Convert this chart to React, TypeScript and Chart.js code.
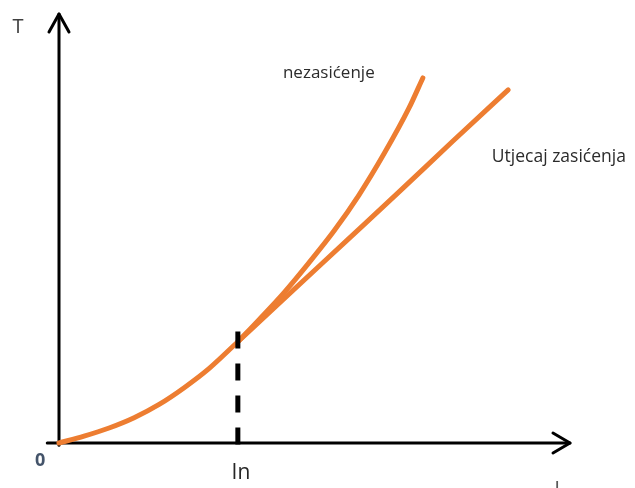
import React, { useEffect, useRef } from "react";
import { Chart, registerables } from "chart.js";

Chart.register(...registerables);

// Shared curve (0 .. In)
const baseX = [0, 0.49, 0.98, 1.47, 1.96, 2.45, 2.94, 3.5];
const baseY = [0, 0.16, 0.35, 0.59, 0.9, 1.29, 1.74, 2.36];
// Without saturation
const upperX = [3.5, 3.91, 4.4, 4.89, 5.38, 5.87, 6.36, 6.85, 7.12];
const upperY = [2.36, 2.87, 3.5, 4.2, 4.94, 5.78, 6.74, 7.81, 8.51];
// With saturation
const lowerX = [3.5, 4.31, 5.64, 6.67, 7.71, 8.79];
const lowerY = [2.36, 3.26, 4.73, 5.87, 7.04, 8.23];

const inValue = 3.5;
const axisLabels = ["T", "0", "In", "I"];
const curveLabels = ["nezasićenje", "Utjecaj zasićenja"];

const ORANGE = "#ED7D31";

const zip = (xs: number[], ys: number[]) => xs.map((x, i) => ({ x, y: ys[i] }));

const overlayPlugin = {
  id: "overlay",
  beforeDatasetsDraw(chart: any) {
    const { ctx, scales } = chart;
    const xs = scales.x;
    const ys = scales.y;
    const px = (v: number) => xs.getPixelForValue(v);
    const py = (v: number) => ys.getPixelForValue(v);
    ctx.save();
    ctx.strokeStyle = "#000";
    ctx.lineWidth = 3;
    ctx.lineCap = "round";
    ctx.lineJoin = "round";
    const x0 = px(0), y0 = py(0);
    const xEnd = px(10), yEnd = py(10);
    // x axis
    ctx.beginPath();
    ctx.moveTo(px(-0.23), y0);
    ctx.lineTo(xEnd, y0);
    ctx.stroke();
    ctx.beginPath();
    ctx.moveTo(xEnd - 17, y0 - 10);
    ctx.lineTo(xEnd, y0);
    ctx.lineTo(xEnd - 17, y0 + 10);
    ctx.stroke();
    // y axis
    ctx.beginPath();
    ctx.moveTo(x0, py(-0.05));
    ctx.lineTo(x0, yEnd);
    ctx.stroke();
    ctx.beginPath();
    ctx.moveTo(x0 - 10, yEnd + 18);
    ctx.lineTo(x0, yEnd);
    ctx.lineTo(x0 + 10, yEnd + 18);
    ctx.stroke();
    ctx.restore();
  },
  afterDatasetsDraw(chart: any) {
    const { ctx, scales } = chart;
    const px = (v: number) => scales.x.getPixelForValue(v);
    const py = (v: number) => scales.y.getPixelForValue(v);
    ctx.save();
    ctx.textBaseline = "middle";
    ctx.textAlign = "center";
    ctx.fillStyle = "#404040";
    ctx.font = "20px 'Open Sans'";
    ctx.fillText(axisLabels[0], px(-0.8), py(9.7));
    ctx.fillStyle = "#44546A";
    ctx.font = "bold 18px 'Open Sans'";
    ctx.fillText(axisLabels[1], px(-0.37), py(-0.42));
    ctx.fillStyle = "#262626";
    ctx.font = "21px 'Open Sans'";
    ctx.fillText(axisLabels[2], px(3.56), py(-0.7));
    ctx.fillStyle = "#595959";
    ctx.fillText(axisLabels[3], px(9.75), py(-1.12));
    ctx.fillStyle = "#2b2b2b";
    ctx.font = "17px 'Open Sans'";
    ctx.fillText(curveLabels[0], px(5.28), py(8.62));
    ctx.textAlign = "left";
    ctx.font = "17.5px 'Open Sans'";
    ctx.fillText(curveLabels[1], px(8.47), py(6.67));
    ctx.restore();
  },
};

export default function App() {
  const ref = useRef<HTMLCanvasElement | null>(null);
  useEffect(() => {
    if (!ref.current) return;
    const lineStyle = {
      borderColor: ORANGE,
      borderWidth: 5,
      pointRadius: 0,
      fill: false,
      cubicInterpolationMode: "monotone" as const,
      borderCapStyle: "round" as const,
      clip: false as const,
    };
    const chart = new Chart(ref.current, {
      type: "line",
      data: {
        datasets: [
          {
            label: "In",
            data: [
              { x: inValue, y: 2.6 },
              { x: inValue, y: -0.23 },
            ],
            borderColor: "#000",
            borderWidth: 5,
            borderDash: [17, 15],
            pointRadius: 0,
            clip: false as const,
          },
          { label: "base", data: zip(baseX, baseY), ...lineStyle },
          { label: curveLabels[0], data: zip(upperX, upperY), ...lineStyle },
          { label: curveLabels[1], data: zip(lowerX, lowerY), ...lineStyle },
        ],
      },
      options: {
        responsive: false,
        animation: false,
        layout: { padding: { left: 59, top: 14, right: 65, bottom: 45 } },
        plugins: { legend: { display: false }, tooltip: { enabled: false } },
        scales: {
          x: { type: "linear", min: 0, max: 10, display: false },
          y: { type: "linear", min: 0, max: 10, display: false },
        },
      },
      plugins: [overlayPlugin],
    });
    return () => chart.destroy();
  }, []);
  return (
    <div style={{ position: "fixed", left: 0, top: 0, width: 635, height: 488, background: "#fff" }}>
      <canvas ref={ref} width={635} height={488} style={{ width: 635, height: 488 }} />
    </div>
  );
}
